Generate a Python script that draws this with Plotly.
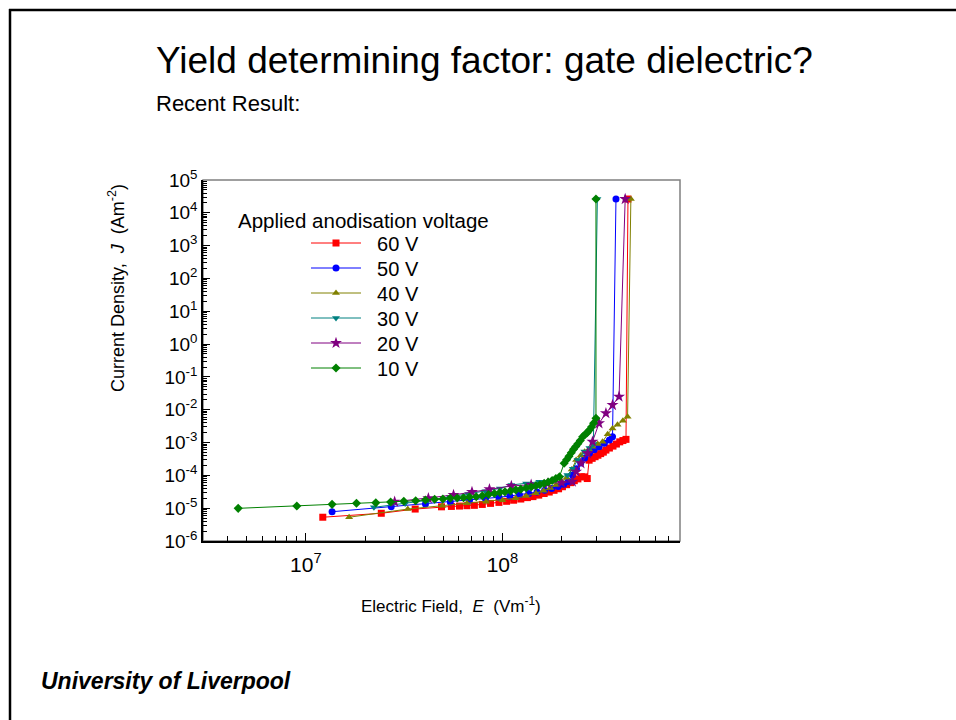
import plotly.graph_objects as go

# ---------------- data ----------------
series_names = ["60 V", "50 V", "40 V", "30 V", "20 V", "10 V"]

E_60 = [1.22e7, 2.42e7, 3.6e7, 4.9e7, 5.5e7, 6.05e7, 6.6e7, 7.2e7, 7.9e7, 8.7e7, 9.6e7,
        1.05e8, 1.14e8, 1.24e8, 1.34e8, 1.43e8, 1.53e8, 1.63e8, 1.73e8, 1.83e8, 1.93e8,
        2.02e8, 2.12e8, 2.22e8, 2.32e8, 2.42e8, 2.52e8, 2.62e8, 2.70e8, 2.76e8, 2.86e8,
        2.96e8, 3.06e8, 3.16e8, 3.26e8, 3.36e8, 3.5e8, 3.65e8, 3.8e8, 3.95e8, 4.1e8,
        4.25e8, 4.35e8]
J_60 = [5.3e-6, 7.0e-6, 9.4e-6, 1.1e-5, 1.13e-5, 1.16e-5, 1.19e-5, 1.22e-5, 1.3e-5, 1.4e-5, 1.5e-5,
        1.62e-5, 1.75e-5, 1.9e-5, 2.1e-5, 2.25e-5, 2.5e-5, 2.8e-5, 3.1e-5, 3.5e-5, 3.9e-5,
        4.5e-5, 5.2e-5, 6.0e-5, 6.9e-5, 7.8e-5, 9.1e-5, 9.0e-5, 8.0e-5, 2.9e-4, 3.3e-4,
        3.7e-4, 4.1e-4, 4.6e-4, 5.1e-4, 5.9e-4, 6.8e-4, 7.8e-4, 9.0e-4, 1.05e-3, 1.15e-3,
        1.25e-3, 2.63e4]

E_50 = [1.36e7, 2.72e7, 4.06e7, 5.43e7, 6.8e7, 8.2e7, 9.6e7, 1.09e8, 1.22e8, 1.36e8,
        1.5e8, 1.64e8, 1.78e8, 1.92e8, 2.05e8, 2.16e8, 2.27e8, 2.38e8, 2.5e8, 2.62e8,
        2.77e8, 2.93e8, 3.1e8, 3.3e8, 3.5e8, 3.63e8, 3.78e8]
J_50 = [7.8e-6, 1.11e-5, 1.34e-5, 1.54e-5, 1.75e-5, 1.95e-5, 2.15e-5, 2.35e-5, 2.55e-5, 2.8e-5,
        3.1e-5, 3.5e-5, 4.0e-5, 4.6e-5, 5.4e-5, 6.5e-5, 1.03e-4, 1.6e-4, 2.4e-4, 3.4e-4,
        4.7e-4, 6.0e-4, 7.5e-4, 9.5e-4, 1.2e-3, 1.5e-3, 2.63e4]

E_40 = [1.66e7, 3.3e7, 4.94e7, 6.6e7, 8.26e7, 1.0e8, 1.17e8, 1.32e8, 1.48e8, 1.62e8,
        1.75e8, 1.87e8, 2.0e8, 2.12e8, 2.25e8, 2.37e8, 2.5e8, 2.62e8, 2.75e8, 2.87e8,
        3.05e8, 3.23e8, 3.43e8, 3.63e8, 3.85e8, 4.1e8, 4.33e8, 4.5e8]
J_40 = [5.3e-6, 9.4e-6, 1.19e-5, 1.41e-5, 1.57e-5, 1.75e-5, 2.0e-5, 2.35e-5, 2.84e-5, 3.4e-5,
        4.1e-5, 5.1e-5, 6.5e-5, 8.5e-5, 1.5e-4, 2.94e-4, 4.0e-4, 5.2e-4, 6.3e-4, 7.5e-4,
        9.0e-4, 1.06e-3, 1.8e-3, 2.7e-3, 3.5e-3, 4.6e-3, 6.1e-3, 2.63e4]

E_30 = [2.22e7, 3.2e7, 4.2e7, 5.4e7, 6.7e7, 8.2e7, 9.7e7, 1.11e8, 1.32e8, 1.54e8,
        1.84e8, 2.14e8, 2.28e8, 2.41e8, 2.61e8, 2.77e8, 2.9e8, 3.04e8]
J_30 = [1.06e-5, 1.4e-5, 1.75e-5, 2.2e-5, 2.7e-5, 3.3e-5, 4.0e-5, 5.1e-5, 5.7e-5, 6.4e-5,
        7.5e-5, 1.03e-4, 1.6e-4, 2.94e-4, 5.3e-4, 6.8e-4, 9.0e-4, 2.63e4]

E_20 = [2.83e7, 4.2e7, 5.64e7, 7.0e7, 8.59e7, 1.11e8, 1.4e8, 1.7e8, 2.0e8, 2.27e8,
        2.37e8, 2.51e8, 2.71e8, 2.87e8, 3.1e8, 3.36e8, 3.63e8, 3.92e8, 4.21e8]
J_20 = [1.57e-5, 2.0e-5, 2.52e-5, 3.1e-5, 3.76e-5, 4.74e-5, 5.2e-5, 5.6e-5, 6.0e-5, 6.4e-5,
        1.29e-4, 2.33e-4, 4.7e-4, 1.06e-3, 3.86e-3, 7.8e-3, 1.39e-2, 2.5e-2, 2.63e4]

E_10 = [4.53e6, 9.0e6, 1.36e7, 1.81e7, 2.27e7, 2.70e7, 3.15e7, 3.62e7, 4.06e7, 4.52e7,
        4.98e7, 5.43e7, 5.89e7, 6.34e7, 6.80e7, 7.36e7, 7.9e7, 8.5e7, 9.1e7, 9.7e7,
        1.03e8, 1.10e8, 1.17e8, 1.24e8, 1.32e8, 1.40e8, 1.48e8, 1.55e8, 1.63e8, 1.71e8,
        1.79e8, 1.87e8, 1.95e8, 2.06e8, 2.12e8, 2.18e8, 2.24e8, 2.30e8, 2.36e8, 2.42e8,
        2.49e8, 2.56e8, 2.63e8, 2.70e8, 2.77e8, 2.84e8, 2.91e8, 2.99e8, 2.99e8]
J_10 = [9.9e-6, 1.16e-5, 1.31e-5, 1.41e-5, 1.47e-5, 1.54e-5, 1.62e-5, 1.69e-5, 1.77e-5, 1.87e-5,
        1.91e-5, 2.0e-5, 2.04e-5, 2.09e-5, 2.19e-5, 2.24e-5, 2.4e-5, 2.6e-5, 2.8e-5, 3.0e-5,
        3.15e-5, 3.35e-5, 3.6e-5, 3.8e-5, 4.1e-5, 4.4e-5, 4.8e-5, 5.2e-5, 5.7e-5, 6.3e-5,
        7.0e-5, 8.0e-5, 9.1e-5, 2.33e-4, 3.0e-4, 3.8e-4, 4.9e-4, 6.2e-4, 7.6e-4, 9.2e-4,
        1.15e-3, 1.5e-3, 1.75e-3, 2.0e-3, 2.4e-3, 3.0e-3, 3.9e-3, 5.5e-3, 2.63e4]

x_tickvals = [1e7, 1e8]
x_ticktext = ["10<sup>7</sup>", "10<sup>8</sup>"]
y_tickvals = [1e-6, 1e-5, 1e-4, 1e-3, 1e-2, 1e-1, 1e0, 1e1, 1e2, 1e3, 1e4, 1e5]
y_ticktext = ["10<sup>-6</sup>", "10<sup>-5</sup>", "10<sup>-4</sup>", "10<sup>-3</sup>",
              "10<sup>-2</sup>", "10<sup>-1</sup>", "10<sup>0</sup>", "10<sup>1</sup>",
              "10<sup>2</sup>", "10<sup>3</sup>", "10<sup>4</sup>", "10<sup>5</sup>"]

# ---------------- styling ----------------
colors = ["#FF0000", "#0000FF", "#808000", "#008080", "#800080", "#008000"]
symbols = ["square", "circle", "triangle-up", "triangle-down", "star", "diamond"]
legend_rows_px = [243, 268, 293, 318, 343, 368]
FONT = "Arial, 'Liberation Sans', sans-serif"

W, H = 956, 720
L, R, T, B = 203, 680, 180, 541   # plot area in pixels

def px(x):
    return (x - L) / (R - L)

def py(y):
    return (B - y) / (B - T)

fig = go.Figure()
Es = [E_60, E_50, E_40, E_30, E_20, E_10]
Js = [J_60, J_50, J_40, J_30, J_20, J_10]
legend_layout = {}
for i, (name, E, J, c, s) in enumerate(zip(series_names, Es, Js, colors, symbols)):
    lg = "legend" if i == 0 else f"legend{i + 1}"
    fig.add_trace(go.Scatter(
        x=E, y=J, name="\u00a0\u00a0" + name, mode="lines+markers",
        line=dict(color=c, width=1),
        marker=dict(symbol=s, size=7 if s != "star" else 9, color=c, line=dict(width=0)),
        legend=lg,
    ))
    legend_layout[lg] = dict(
        x=px(306), y=py(legend_rows_px[i]), xanchor="left", yanchor="middle",
        bgcolor="rgba(0,0,0,0)", borderwidth=0,
        font=dict(family=FONT, size=20, color="black"),
        itemwidth=50,
    )

minor_vals = []
for e in range(-6, 5):
    for k in range(2, 10):
        minor_vals.append(k * 10.0 ** e)
minor_x = []
for e in range(6, 9):
    for k in range(2, 10):
        minor_x.append(k * 10.0 ** e)

fig.update_xaxes(
    type="log", range=[6.4771, 8.9031],
    tickmode="array", tickvals=x_tickvals, ticktext=x_ticktext,
    ticks="inside", ticklen=8, tickwidth=1, tickcolor="black",
    showline=True, linecolor="black", linewidth=1.5, mirror=False,
    showgrid=False, zeroline=False, ticklabelstandoff=4,
    tickfont=dict(family=FONT, size=21, color="black"),
    minor=dict(tickmode="array", tickvals=minor_x, ticks="inside", ticklen=5,
               tickcolor="black", showgrid=False),
)
fig.update_yaxes(
    type="log", range=[-6, 5],
    tickmode="array", tickvals=y_tickvals, ticktext=y_ticktext,
    ticks="inside", ticklen=7, tickwidth=1, tickcolor="black",
    showline=True, linecolor="black", linewidth=1.5, mirror=False,
    showgrid=False, zeroline=False,
    tickfont=dict(family=FONT, size=19, color="black"),
    minor=dict(tickmode="array", tickvals=minor_vals, ticks="inside", ticklen=4,
               tickcolor="black", showgrid=False),
)

shapes = [
    dict(type="rect", xref="paper", yref="paper", x0=0, x1=1, y0=0, y1=1,
         line=dict(color="#808080", width=1.5), layer="below"),
    dict(type="line", xref="paper", yref="paper", x0=px(9), x1=px(956), y0=py(10), y1=py(10),
         line=dict(color="black", width=2.5)),
    dict(type="line", xref="paper", yref="paper", x0=px(10), x1=px(10), y0=py(9), y1=py(720),
         line=dict(color="black", width=2.5)),
]

annotations = [
    dict(text="Yield determining factor: gate dielectric?", xref="paper", yref="paper",
         x=px(154), y=py(60), xanchor="left", yanchor="middle", showarrow=False,
         font=dict(family=FONT, size=37, color="black")),
    dict(text="Recent Result:", xref="paper", yref="paper",
         x=px(154), y=py(103), xanchor="left", yanchor="middle", showarrow=False,
         font=dict(family=FONT, size=22, color="black")),
    dict(text="<b><i>University of Liverpool</i></b>", xref="paper", yref="paper",
         x=px(39), y=py(681), xanchor="left", yanchor="middle", showarrow=False,
         font=dict(family=FONT, size=23, color="black")),
    dict(text="Applied anodisation voltage", xref="paper", yref="paper",
         x=px(236), y=py(220), xanchor="left", yanchor="middle", showarrow=False,
         font=dict(family=FONT, size=20.5, color="black")),
    dict(text="Current Density,  <i>J</i>  (Am<sup>-2</sup>)", xref="paper", yref="paper",
         x=px(116), y=py(288), xanchor="center", yanchor="middle", textangle=-90,
         showarrow=False, font=dict(family=FONT, size=18, color="black")),
    dict(text="Electric Field,  <i>E</i>  (Vm<sup>-1</sup>)", xref="paper", yref="paper",
         x=px(451), y=py(605), xanchor="center", yanchor="middle",
         showarrow=False, font=dict(family=FONT, size=17, color="black")),
]

fig.update_layout(
    width=W, height=H,
    margin=dict(l=L, r=W - R, t=T, b=H - B, pad=0),
    paper_bgcolor="white", plot_bgcolor="white",
    showlegend=True,
    shapes=shapes,
    annotations=annotations,
    **legend_layout,
)

fig.write_html("out.html")
